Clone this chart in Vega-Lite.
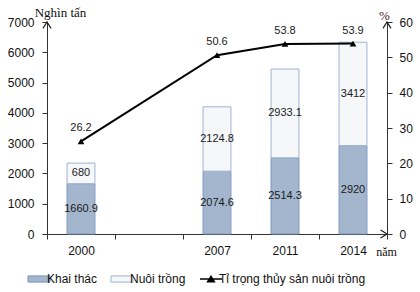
{
  "$schema": "https://vega.github.io/schema/vega-lite/v6.json",
  "width": 340,
  "height": 212,
  "autosize": "none",
  "padding": {"left": 47, "top": 22, "right": 33, "bottom": 58},
  "background": "white",
  "config": {"view": {"stroke": null}, "font": "Liberation Sans", "axis": {"grid": false}},
  "datasets": {
    "bars": [
      {"year": "2000", "type": "Khai thác", "value": 1660.9},
      {"year": "2000", "type": "Nuôi trồng", "value": 680},
      {"year": "2007", "type": "Khai thác", "value": 2074.6},
      {"year": "2007", "type": "Nuôi trồng", "value": 2124.8},
      {"year": "2011", "type": "Khai thác", "value": 2514.3},
      {"year": "2011", "type": "Nuôi trồng", "value": 2933.1},
      {"year": "2014", "type": "Khai thác", "value": 2920},
      {"year": "2014", "type": "Nuôi trồng", "value": 3412}
    ],
    "line": [
      {"year": "2000", "pct": 26.2},
      {"year": "2007", "pct": 50.6},
      {"year": "2011", "pct": 53.8},
      {"year": "2014", "pct": 53.9}
    ],
    "one": [{"k": 1}]
  },
  "layer": [
    {
      "data": {"name": "bars"},
      "layer": [
        {
          "mark": {"type": "bar", "width": {"band": 0.41}, "strokeWidth": 1},
          "encoding": {
            "x": {
              "field": "year", "type": "nominal",
              "scale": {"domain": ["2000", "gap", "2007", "2011", "2014"], "paddingInner": 0, "paddingOuter": 0},
              "axis": {
                "title": "năm", "titleX": 339, "titleY": 17, "titleAngle": 0, "titleAlign": "center", "titleBaseline": "middle",
                "titleFont": "Liberation Serif", "titleFontSize": 12, "titleFontWeight": "normal", "titleColor": "#111",
                "labelAngle": 0, "labelFontSize": 12, "labelColor": "#111", "labelPadding": 6,
                "labelExpr": "datum.value == 'gap' ? '' : datum.label",
                "tickBand": "extent", "tickSize": 5, "tickColor": "#333", "domainColor": "#333", "domainWidth": 1
              }
            },
            "y": {
              "field": "value", "type": "quantitative",
              "scale": {"domain": [0, 7000]},
              "axis": {
                "orient": "left", "values": [0, 1000, 2000, 3000, 4000, 5000, 6000, 7000], "format": "d",
                "title": "Nghìn tấn", "titleAngle": 0, "titleX": 13, "titleY": -10, "titleAlign": "center", "titleBaseline": "middle",
                "titleFont": "Liberation Serif", "titleFontSize": 13, "titleFontWeight": "normal", "titleColor": "#111",
                "labelFontSize": 12, "labelColor": "#111", "labelPadding": 8,
                "tickSize": 5, "tickColor": "#333", "domainColor": "#333"
              }
            },
            "fill": {
              "field": "type", "type": "nominal",
              "scale": {"domain": ["Khai thác", "Nuôi trồng", "Tỉ trọng thủy sản nuôi trồng"], "range": ["#a3b6cd", "#f6f7f9", "#000000"]},
              "legend": {
                "orient": "none", "legendX": -14, "legendY": 251, "direction": "horizontal", "title": null, "padding": 0,
                "labelFontSize": 12, "labelColor": "#111", "labelFont": "Liberation Sans", "labelOffset": 2, "labelLimit": 300,
                "columnPadding": 11, "symbolSize": 484, "symbolStrokeWidth": 1, "symbolOpacity": 1,
                "encode": {
                  "symbols": {
                    "update": {
                      "shape": {"signal": "datum.value === 'Tỉ trọng thủy sản nuôi trồng' ? 'M-1,0H1M-0.3,0.24L0,-0.24L0.3,0.24Z' : 'M-1,-0.28H1V0.28H-1Z'"},
                      "stroke": {"signal": "datum.value === 'Khai thác' ? '#7b97be' : datum.value === 'Nuôi trồng' ? '#9fb3d0' : '#000000'"},
                      "strokeWidth": {"signal": "datum.value === 'Tỉ trọng thủy sản nuôi trồng' ? 1.5 : 1"}
                    }
                  }
                }
              }
            },
            "stroke": {
              "field": "type", "type": "nominal",
              "scale": {"domain": ["Khai thác", "Nuôi trồng"], "range": ["#7b97be", "#9fb3d0"]},
              "legend": null
            },
            "order": {"field": "type", "type": "ordinal", "sort": "ascending"}
          }
        },
        {
          "mark": {"type": "text", "fontSize": 11, "color": "#1a1a1a", "baseline": "middle"},
          "encoding": {
            "x": {"field": "year", "type": "nominal"},
            "y": {
              "field": "value", "type": "quantitative", "stack": "zero", "bandPosition": 0.5,
              "axis": {
                "orient": "left", "values": [0, 1000, 2000, 3000, 4000, 5000, 6000, 7000], "format": "d",
                "title": "Nghìn tấn", "titleAngle": 0, "titleX": 13, "titleY": -10, "titleAlign": "center", "titleBaseline": "middle",
                "titleFont": "Liberation Serif", "titleFontSize": 13, "titleFontWeight": "normal", "titleColor": "#111",
                "labelFontSize": 12, "labelColor": "#111", "labelPadding": 8,
                "tickSize": 5, "tickColor": "#333", "domainColor": "#333"
              }
            },
            "detail": {"field": "type", "type": "nominal"},
            "order": {"field": "type", "type": "ordinal", "sort": "ascending"},
            "text": {"field": "value", "type": "quantitative", "format": ".1~f"}
          }
        },
        {
          "data": {"name": "one"},
          "mark": {"type": "point", "shape": "M-1,1.6L0,0L1,1.6", "size": 64, "filled": false, "stroke": "#222", "strokeWidth": 1.2, "opacity": 1},
          "encoding": {
            "x": {"datum": "2000", "bandPosition": 0},
            "y": {
              "datum": 7000,
              "axis": {
                "orient": "left", "values": [0, 1000, 2000, 3000, 4000, 5000, 6000, 7000], "format": "d",
                "title": "Nghìn tấn", "titleAngle": 0, "titleX": 13, "titleY": -10, "titleAlign": "center", "titleBaseline": "middle",
                "titleFont": "Liberation Serif", "titleFontSize": 13, "titleFontWeight": "normal", "titleColor": "#111",
                "labelFontSize": 12, "labelColor": "#111", "labelPadding": 8,
                "tickSize": 5, "tickColor": "#333", "domainColor": "#333"
              }
            }
          }
        }
      ]
    },
    {
      "data": {"name": "line"},
      "layer": [
        {
          "mark": {"type": "line", "color": "#000", "strokeWidth": 2, "point": {"shape": "triangle-up", "size": 45, "filled": true, "color": "#000"}},
          "encoding": {
            "x": {"field": "year", "type": "nominal"},
            "y": {
              "field": "pct", "type": "quantitative",
              "scale": {"domain": [0, 60]},
              "axis": {
                "orient": "right", "values": [0, 10, 20, 30, 40, 50, 60], "format": "d",
                "title": "%", "titleAngle": 0, "titleX": -3, "titleY": -7, "titleAlign": "center", "titleBaseline": "middle",
                "titleFont": "Liberation Serif", "titleFontSize": 13, "titleFontWeight": "normal", "titleColor": "#4a2020",
                "labelFontSize": 12, "labelColor": "#111", "labelPadding": 7,
                "tickSize": 5, "tickColor": "#333", "domainColor": "#333"
              }
            }
          }
        },
        {
          "mark": {"type": "text", "dy": -13, "fontSize": 11, "color": "#1a1a1a"},
          "encoding": {
            "x": {"field": "year", "type": "nominal"},
            "y": {
              "field": "pct", "type": "quantitative",
              "axis": {
                "orient": "right", "values": [0, 10, 20, 30, 40, 50, 60], "format": "d",
                "title": "%", "titleAngle": 0, "titleX": -3, "titleY": -7, "titleAlign": "center", "titleBaseline": "middle",
                "titleFont": "Liberation Serif", "titleFontSize": 13, "titleFontWeight": "normal", "titleColor": "#4a2020",
                "labelFontSize": 12, "labelColor": "#111", "labelPadding": 7,
                "tickSize": 5, "tickColor": "#333", "domainColor": "#333"
              }
            },
            "text": {"field": "pct", "type": "quantitative", "format": ".1f"}
          }
        },
        {
          "data": {"name": "one"},
          "mark": {"type": "point", "shape": "M-1,1.6L0,0L1,1.6", "size": 64, "filled": false, "stroke": "#222", "strokeWidth": 1.2, "opacity": 1},
          "encoding": {
            "x": {"datum": "2014", "bandPosition": 1},
            "y": {
              "datum": 60,
              "axis": {
                "orient": "right", "values": [0, 10, 20, 30, 40, 50, 60], "format": "d",
                "title": "%", "titleAngle": 0, "titleX": -3, "titleY": -7, "titleAlign": "center", "titleBaseline": "middle",
                "titleFont": "Liberation Serif", "titleFontSize": 13, "titleFontWeight": "normal", "titleColor": "#4a2020",
                "labelFontSize": 12, "labelColor": "#111", "labelPadding": 7,
                "tickSize": 5, "tickColor": "#333", "domainColor": "#333"
              }
            }
          }
        },
        {
          "data": {"name": "one"},
          "mark": {"type": "point", "shape": "M-1.6,-1L0,0L-1.6,1", "size": 64, "filled": false, "stroke": "#222", "strokeWidth": 1.2, "opacity": 1},
          "encoding": {
            "x": {"datum": "2014", "bandPosition": 1},
            "y": {
              "datum": 0,
              "axis": {
                "orient": "right", "values": [0, 10, 20, 30, 40, 50, 60], "format": "d",
                "title": "%", "titleAngle": 0, "titleX": -3, "titleY": -7, "titleAlign": "center", "titleBaseline": "middle",
                "titleFont": "Liberation Serif", "titleFontSize": 13, "titleFontWeight": "normal", "titleColor": "#4a2020",
                "labelFontSize": 12, "labelColor": "#111", "labelPadding": 7,
                "tickSize": 5, "tickColor": "#333", "domainColor": "#333"
              }
            }
          }
        }
      ]
    }
  ],
  "resolve": {"scale": {"y": "independent"}}
}
